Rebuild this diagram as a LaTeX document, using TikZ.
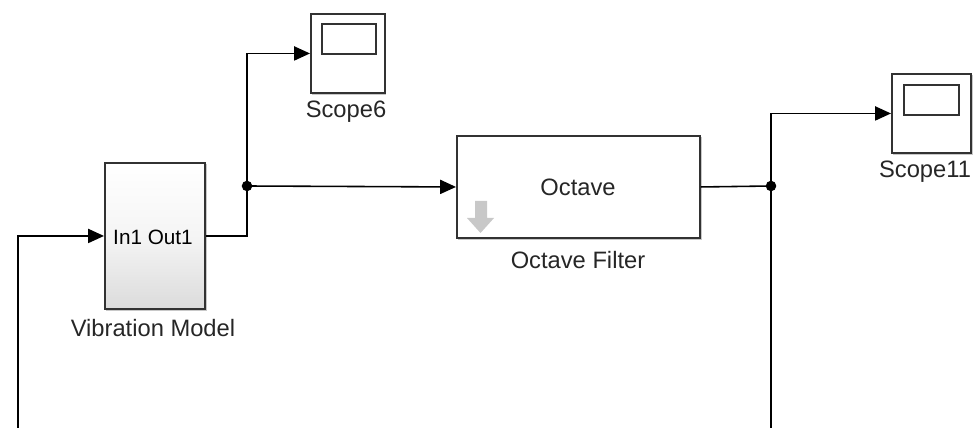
\documentclass[tikz,border=0pt]{standalone}
\usepackage{fontspec}
\setmainfont{Liberation Sans}
\usetikzlibrary{arrows.meta}
\definecolor{bord}{RGB}{50,50,50}
\definecolor{shad}{RGB}{200,200,200}
\definecolor{garrow}{RGB}{200,200,200}
\tikzset{
  sig/.style={line width=0.9pt, draw=black},
  sigarr/.style={sig, -{Triangle[length=9pt,width=8pt]}},
  blockbox/.style={draw=bord, line width=1.1pt, fill=white},
  lbl/.style={font=\fontsize{13.5}{15}\selectfont, text=black!85, inner sep=0pt},
  jdot/.style={circle, fill=black, inner sep=0pt, minimum size=6pt}
}
\begin{document}
\begin{tikzpicture}[x=0.02cm, y=-0.02cm]
\useasboundingbox (0,0) rectangle (979,428);
% shadows
\fill[shad] (106,164) rectangle (207,311);
\fill[shad] (312,15) rectangle (386,95);
\fill[shad] (458,137) rectangle (702,240);
\fill[shad] (893,75) rectangle (973,155);
% Vibration model
\node[blockbox, minimum width=100*0.02cm, minimum height=146*0.02cm, anchor=north west,
  top color=white, bottom color=black!14, middle color=white!96!black] (vm) at (104,162) {};
\node[inner sep=0pt, font=\fontsize{11.8}{13}\selectfont] (vmt) at (153,237) {In1 Out1};
\node[lbl] (vml) at (153,328) {Vibration Model};
% Scope6
\node[blockbox, minimum width=74*0.02cm, minimum height=79*0.02cm, anchor=north west] (s6) at (310,13) {};
\draw[draw=bord, line width=1pt] (322,24) rectangle (376,54);
\node[lbl] (s6l) at (346,112) {Scope6};
% Octave filter
\node[blockbox, minimum width=243*0.02cm, minimum height=102*0.02cm, anchor=north west] (oct) at (456,135) {};
\node[lbl] (octt) at (578,187) {Octave};
\fill[garrow] (475,201) -- (487,201) -- (487,218) -- (494,218) -- (480.5,233) -- (467,218) -- (475,218) -- cycle;
\node[lbl] (octl) at (578,260) {Octave Filter};
% Scope11
\node[blockbox, minimum width=79*0.02cm, minimum height=79*0.02cm, anchor=north west] (s11) at (891,73) {};
\draw[draw=bord, line width=1pt] (904,85) rectangle (959,115);
\node[lbl] (s11l) at (925,172) {Scope11};
% coordinates
\coordinate (in0) at (18,428);
\coordinate (j1) at (247,186);
\coordinate (j2) at (771,186);
\coordinate (b2) at (771,428);
% connectors
\draw[sigarr] (in0) |- (vm.west);
\draw[sig] (vm.east) -| (j1);
\draw[sigarr] (j1) |- (s6.west);
\draw[sigarr] (j1) -- (oct.west);
\draw[sig] (oct.east) -- (j2);
\draw[sigarr] (j2) |- (s11.west);
\draw[sig] (j2) -- (b2);
\node[jdot] at (j1) {};
\node[jdot] at (j2) {};
\end{tikzpicture}
\end{document}
